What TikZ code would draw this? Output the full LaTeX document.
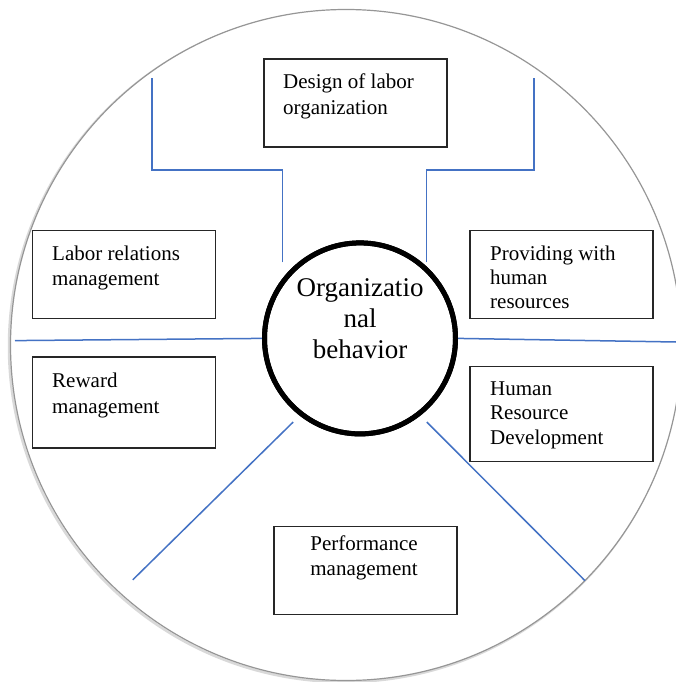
\documentclass[tikz,border=0pt]{standalone}
\usepackage{fontspec}
\setmainfont{Liberation Serif}
\definecolor{lineblue}{RGB}{68,114,196}
\definecolor{rimgray}{RGB}{150,150,150}
\begin{document}
\begin{tikzpicture}[x=1pt,y=-1pt,
  boxshape/.style={draw=black!85, line width=1.3pt, rectangle, inner sep=0pt, anchor=north west, minimum width=183pt},
  boxtext/.style={font=\fontsize{21}{25}\selectfont, align=left, inner sep=0pt, anchor=base west},
  centertext/.style={font=\fontsize{27}{31}\selectfont, align=center, inner sep=0pt, anchor=base},
  link/.style={draw=lineblue, line width=1.5pt},
  corestyle/.style={circle, draw=black, line width=5pt, minimum size=191pt, inner sep=0pt}]
\useasboundingbox (0,0) rectangle (676,682);
% outer disc with faint shadow
\node[circle, draw=black!15, line width=2.5pt, minimum size=671pt, inner sep=0pt] (shadow) at (344.5,346.5) {};
\node[circle, draw=rimgray, fill=white, line width=1.2pt, minimum size=671pt, inner sep=0pt] (outer) at (346,345) {};

% blue connector lines
\coordinate (ltA) at (282.4,262.3);
\coordinate (ltB) at (282.4,170);
\coordinate (ltC) at (151.8,170);
\coordinate (ltD) at (151.8,78.3);
\coordinate (rtA) at (426.4,262.3);
\coordinate (rtB) at (426.4,170);
\coordinate (rtC) at (534.2,170);
\coordinate (rtD) at (534.2,78.3);
\coordinate (lhA) at (15,340.6);
\coordinate (rhB) at (676,342);
\coordinate (ldA) at (293.2,422);
\coordinate (ldB) at (132.8,579.8);
\coordinate (rdA) at (426.8,422);
\coordinate (rdB) at (585,580.7);

\node[corestyle] (core) at (360,338.4) {};

\draw[link] (ltA) -- (ltB) -- (ltC) -- (ltD);
\draw[link] (rtA) -- (rtB) -- (rtC) -- (rtD);
\draw[link] (lhA) -- (core.west);
\draw[link] (core.east) -- (rhB);
\draw[link] (ldA) -- (ldB);
\draw[link] (rdA) -- (rdB);

\node[corestyle] (core2) at (360,338.4) {};
\node[centertext] (coretext) at (360,358.3) {Organizatio\\nal\\behavior};

% boxes
\node[boxshape, minimum height=88pt] (design) at (263.3,58.3) {};
\node[boxtext, font=\fontsize{21}{26}\selectfont] (designT) at (283,115) {Design of labor\\organization};

\node[boxshape, minimum height=88pt] (labor) at (31.7,230) {};
\node[boxtext] (laborT) at (52,285) {Labor relations\\management};

\node[boxshape, minimum height=88pt] (provide) at (469.3,230) {};
\node[boxtext, font=\fontsize{21}{24}\selectfont] (provideT) at (490,308) {Providing with\\human\\resources};

\node[boxshape, minimum height=91pt] (reward) at (31.7,356.3) {};
\node[boxtext, font=\fontsize{21}{25.7}\selectfont] (rewardT) at (52,413) {Reward\\management};

\node[boxshape, minimum height=95pt] (hrd) at (469.3,366) {};
\node[boxtext, font=\fontsize{21}{24.5}\selectfont] (hrdT) at (490,444.3) {Human\\Resource\\Development};

\node[boxshape, minimum height=88pt] (perf) at (273.3,525.7) {};
\node[boxtext, font=\fontsize{21}{25.7}\selectfont, align=center, anchor=base] (perfT) at (364,575.7) {Performance\\management};
\end{tikzpicture}
\end{document}
